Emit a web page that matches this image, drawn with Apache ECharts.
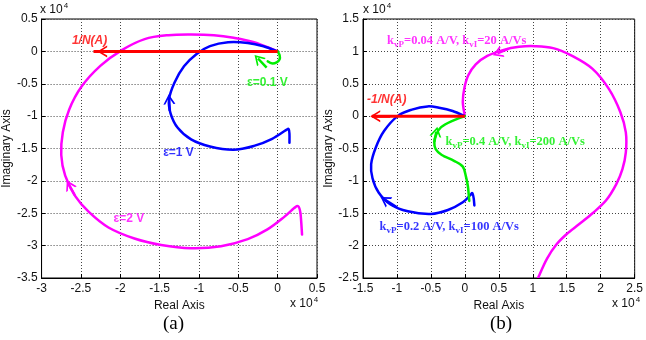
<!DOCTYPE html>
<html><head><meta charset="utf-8">
<script src="https://cdn.jsdelivr.net/npm/echarts@6/dist/echarts.min.js"></script>
<style>html,body{margin:0;padding:0;background:#fff}#c{width:646px;height:340px}</style>
</head><body><div id="c"></div>
<script>
// ---------- axis ticks (values in units of 10^4) ----------
const xTicksA = [-3, -2.5, -2, -1.5, -1, -0.5, 0, 0.5];
const yTicksA = [-3.5, -3, -2.5, -2, -1.5, -1, -0.5, 0, 0.5];
const xTicksB = [-1.5, -1, -0.5, 0, 0.5, 1, 1.5, 2, 2.5];
const yTicksB = [-2.5, -2, -1.5, -1, -0.5, 0, 0.5, 1, 1.5];

// ---------- panel (a) curves ----------
const magentaA = [[0,0],[-0.30,0.14],[-0.56,0.21],[-0.81,0.25],[-1.10,0.26],[-1.39,0.25],[-1.69,0.19],[-1.98,0.02],[-2.25,-0.22],[-2.49,-0.54],[-2.65,-0.90],[-2.73,-1.25],[-2.75,-1.60],[-2.70,-1.92],[-2.57,-2.24],[-2.40,-2.48],[-2.15,-2.72],[-1.82,-2.89],[-1.48,-2.99],[-1.10,-3.04],[-0.72,-3.01],[-0.38,-2.90],[-0.13,-2.75],[0.08,-2.56],[0.21,-2.42],[0.26,-2.39],[0.29,-2.50],[0.31,-2.83]];
const blueA = [[0,0],[-0.18,0.08],[-0.38,0.13],[-0.63,0.14],[-0.86,0.08],[-1.03,-0.04],[-1.19,-0.23],[-1.31,-0.48],[-1.38,-0.74],[-1.36,-0.96],[-1.27,-1.18],[-1.10,-1.36],[-0.86,-1.47],[-0.56,-1.52],[-0.30,-1.46],[-0.07,-1.35],[0.10,-1.22],[0.14,-1.20],[0.15,-1.28],[0.15,-1.41]];
const greenA = [[0,0],[0.025,-0.06],[0.025,-0.12],[-0.013,-0.17],[-0.076,-0.185],[-0.126,-0.154]];
const redA = [[0,0],[-2.34,0]];

// ---------- panel (b) curves ----------
const magentaB = [[0,0],[-0.03,0.21],[-0.01,0.42],[0.05,0.63],[0.16,0.80],[0.33,0.93],[0.56,1.02],[0.80,1.07],[1.03,1.08],[1.30,1.05],[1.58,0.93],[1.88,0.73],[2.12,0.42],[2.29,0.06],[2.37,-0.25],[2.37,-0.56],[2.32,-0.82],[2.23,-1.05],[2.08,-1.30],[1.88,-1.50],[1.68,-1.67],[1.50,-1.82],[1.35,-1.98],[1.21,-2.20],[1.09,-2.47],[1.05,-2.58]];
const blueB = [[0,0],[-0.18,0.08],[-0.38,0.13],[-0.55,0.15],[-0.78,0.10],[-0.99,0],[-1.19,-0.23],[-1.31,-0.48],[-1.38,-0.74],[-1.36,-0.96],[-1.27,-1.18],[-1.10,-1.36],[-0.84,-1.47],[-0.50,-1.51],[-0.25,-1.45],[-0.03,-1.33],[0.08,-1.22],[0.11,-1.19],[0.13,-1.27],[0.14,-1.38]];
const greenB = [[0,0],[-0.20,-0.08],[-0.35,-0.17],[-0.42,-0.28],[-0.45,-0.40],[-0.43,-0.51],[-0.34,-0.60],[-0.16,-0.69],[-0.03,-0.78],[0.015,-0.93],[0.044,-1.08],[0.058,-1.23],[0.065,-1.31]];
const redB = [[0,0],[-1.37,0]];

// ---------- arrows [from, tip] ----------
const arrowsA = [
  {color:'#ff0000', seg:[[-2.0,0],[-2.23,0]]},
  {color:'#ff00ff', seg:[[-2.58,-2.22],[-2.65,-2.06]]},
  {color:'#0000ff', seg:[[-1.37,-0.92],[-1.38,-0.74]]},
  {color:'#00ee00', seg:[[-0.14,-0.25],[-0.25,-0.11]]}
];
const arrowsB = [
  {color:'#ff0000', seg:[[-1.1,0],[-1.32,0]]},
  {color:'#ff00ff', seg:[[0.64,1.04],[0.48,0.97]]},
  {color:'#0000ff', seg:[[-1.0,-1.41],[-1.18,-1.29]]},
  {color:'#00ee00', seg:[[-0.45,-0.40],[-0.42,-0.24]]}
];

// ---------- text annotations [x, y, text, color, style] ----------
const labelsA = [
  [-2.39, 0.17, '1/N(A)', '#ff0000', 'it'],
  [-0.13, -0.48, 'ε=0.1 V', '#00ee00', 'b'],
  [-1.26, -1.56, 'ε=1 V', '#0000ff', 'b'],
  [-1.89, -2.58, 'ε=2 V', '#ff00ff', 'b']
];
const labelsB = [
  [-1.15, 0.25, '-1/N(A)', '#ff0000', 'it'],
  [-0.12, 1.16, '{n|k}{s|vP}{n|=0.04 A/V, k}{s|vI}{n|=20 A/Vs}', '#ff00ff', 'tm'],
  [0.74, -0.39, '{n|k}{s|vP}{n|=0.4 A/V, k}{s|vI}{n|=200 A/Vs}', '#00ee00', 'tm'],
  [-0.23, -1.71, '{n|k}{s|vP}{n|=0.2 A/V, k}{s|vI}{n|=100 A/Vs}', '#0000ff', 'tm']
];

const sans = 'Liberation Sans, Arial, sans-serif';
const serif = 'Liberation Serif, Times New Roman, serif';

function mkX(ticks, idx) {
  return {
    type:'value', gridIndex: idx, min: ticks[0], max: ticks[ticks.length-1], interval: 0.5,
    name:'Real Axis', nameLocation:'middle', nameGap: 18,
    nameTextStyle:{fontFamily:sans, fontSize:12, color:'#111'},
    axisLine:{show:true, onZero:false, lineStyle:{color:'#000', width:1}},
    axisTick:{show:true, inside:true, length:4, lineStyle:{color:'#000'}},
    axisLabel:{fontFamily:sans, fontSize:12, color:'#111', margin:5},
    splitLine:{show:true, lineStyle:{type:[1,2], color:'#444', width:1}}
  };
}
function mkY(ticks, idx, gap) {
  return {
    type:'value', gridIndex: idx, min: ticks[0], max: ticks[ticks.length-1], interval: 0.5,
    name:'Imaginary Axis', nameLocation:'middle', nameGap: gap,
    nameTextStyle:{fontFamily:sans, fontSize:12, color:'#111'},
    axisLine:{show:true, onZero:false, lineStyle:{color:'#000', width:1}},
    axisTick:{show:true, inside:true, length:4, lineStyle:{color:'#000'}},
    axisLabel:{fontFamily:sans, fontSize:12, color:'#111', margin:4},
    splitLine:{show:true, lineStyle:{type:[1,2], color:'#444', width:1}}
  };
}
// smooth curve: points mapped through the axes (api.coord), drawn as a Catmull-Rom bezier path
function curve(data, color, idx) {
  return {type:'custom', coordinateSystem:'cartesian2d', xAxisIndex:idx, yAxisIndex:idx,
    data:data, clip:true, silent:true, animation:false, z:3,
    renderItem: function(params, api) {
      if (params.dataIndex !== 0) return null;
      const P = data.map(d => api.coord(d));
      const n = P.length;
      let d = 'M' + P[0][0] + ' ' + P[0][1];
      for (let i = 0; i < n - 1; i++) {
        const p0 = P[Math.max(i-1,0)], p1 = P[i], p2 = P[i+1], p3 = P[Math.min(i+2,n-1)];
        const c1 = [p1[0] + (p2[0]-p0[0])/6, p1[1] + (p2[1]-p0[1])/6];
        const c2 = [p2[0] - (p3[0]-p1[0])/6, p2[1] - (p3[1]-p1[1])/6];
        d += ' C' + c1[0] + ' ' + c1[1] + ' ' + c2[0] + ' ' + c2[1] + ' ' + p2[0] + ' ' + p2[1];
      }
      return {type:'path', shape:{pathData:d}, style:{fill:null, stroke:color, lineWidth:2.5, lineJoin:'round', lineCap:'round'}};
    }
  };
}
const chev = 'path://M0,10 L5,0 L10,10 L8.4,10 L5,3.2 L1.6,10 Z';
function arrowSeries(list, idx) {
  return list.map(a => ({
    type:'line', xAxisIndex:idx, yAxisIndex:idx, data:[], silent:true, animation:false,
    markLine:{silent:true, animation:false, symbol:['none', chev], symbolSize:[12,10],
      label:{show:false}, lineStyle:{color:a.color, width:2.5, type:'solid'},
      emphasis:{disabled:true},
      data:[[{coord:a.seg[0]},{coord:a.seg[1]}]]}
  }));
}
const rich = {
  n:{fontFamily:serif, fontSize:12.5, fontWeight:'bold'},
  s:{fontFamily:serif, fontSize:9, fontWeight:'bold', padding:[8,0,0,0]}
};
function labelSeries(list, idx) {
  return list.map(l => ({
    type:'scatter', xAxisIndex:idx, yAxisIndex:idx, symbolSize:0, silent:true, animation:false,
    data:[[l[0], l[1]]],
    label:{show:true, position:'inside', formatter: () => l[2], color:l[3],
      fontFamily: l[4]==='tm' ? serif : sans, fontSize: l[4]==='tm' ? 12.5 : 12,
      fontWeight:'bold', fontStyle: l[4]==='it' ? 'italic' : 'normal',
      rich: l[4]==='tm' ? JSON.parse(JSON.stringify(rich)) : undefined}
  })).map(s => { if (s.label.rich) { for (const k in s.label.rich) s.label.rich[k].color = s.label.color; } else delete s.label.rich; return s; });
}

const chart = echarts.init(document.getElementById('c'), null, {renderer:'canvas'});
const x104 = {a:{fontFamily:sans,fontSize:12,fill:'#111'}, b:{fontFamily:sans,fontSize:8,fill:'#111',padding:[0,0,8,1]}};
chart.setOption({
  animation:false,
  backgroundColor:'#fff',
  grid:[
    {left:40, top:19, width:277, height:259, show:true, borderColor:'#000', borderWidth:1, backgroundColor:'#fff'},
    {left:363, top:19, width:275, height:259, show:true, borderColor:'#000', borderWidth:1, backgroundColor:'#fff'}
  ],
  xAxis:[mkX(xTicksA,0), mkX(xTicksB,1)],
  yAxis:[mkY(yTicksA,0,28), mkY(yTicksB,1,28)],
  graphic:[
    {type:'text', left:40, top:2, style:{text:'{a|x 10}{b|4}', rich:x104}},
    {type:'text', left:290, top:296, style:{text:'{a|x 10}{b|4}', rich:x104}},
    {type:'text', left:363, top:2, style:{text:'{a|x 10}{b|4}', rich:x104}},
    {type:'text', left:612, top:296, style:{text:'{a|x 10}{b|4}', rich:x104}},
    {type:'text', left:163, top:315, style:{text:'(a)', fontFamily:serif, fontSize:19, fill:'#000'}},
    {type:'text', left:490, top:315, style:{text:'(b)', fontFamily:serif, fontSize:19, fill:'#000'}}
  ],
  series:[
    curve(magentaA,'#ff00ff',0), curve(blueA,'#0000ff',0), curve(greenA,'#00ee00',0),
    {type:'line', xAxisIndex:0, yAxisIndex:0, data:redA, showSymbol:false, lineStyle:{color:'#ff0000', width:3}, silent:true, animation:false, z:4},
    curve(magentaB,'#ff00ff',1), curve(blueB,'#0000ff',1), curve(greenB,'#00ee00',1),
    {type:'line', xAxisIndex:1, yAxisIndex:1, data:redB, showSymbol:false, lineStyle:{color:'#ff0000', width:3}, silent:true, animation:false, z:4},
    ...arrowSeries(arrowsA,0), ...arrowSeries(arrowsB,1),
    ...labelSeries(labelsA,0), ...labelSeries(labelsB,1)
  ]
});
</script></body></html>
